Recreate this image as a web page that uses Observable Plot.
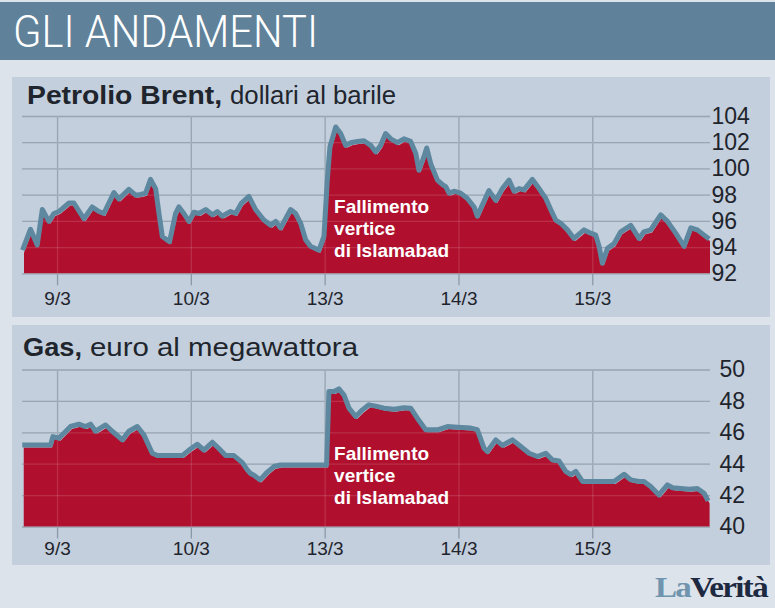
<!DOCTYPE html>
<html>
<head>
<meta charset="utf-8">
<script src="https://cdn.jsdelivr.net/npm/d3@7"></script>
<script src="https://cdn.jsdelivr.net/npm/@observablehq/plot@0.6"></script>
<style>
  body { margin: 0; background: #dce3ea; }
  #root { position: relative; width: 775px; height: 608px; background: #dce3ea; overflow: hidden; }
  .abs { position: absolute; }
</style>
</head>
<body>
<div id="root">
  <div class="abs" style="left:0;top:2px;width:775px;height:58px;background:#5f8199"></div>
  <div class="abs" style="left:12px;top:77px;width:758px;height:240px;background:#c3cfdc"></div>
  <div class="abs" style="left:12px;top:325px;width:758px;height:240px;background:#c3cfdc"></div>
  <svg class="abs" style="left:0;top:0" width="775" height="608">
    <text x="13" y="47" fill="#ffffff" font-family="Roboto, 'Liberation Sans', sans-serif" font-weight="300" font-size="44" textLength="305" lengthAdjust="spacingAndGlyphs">GLI ANDAMENTI</text>
    <text x="27" y="103.5" fill="#20252d" font-family="'Liberation Sans', Arial, sans-serif" font-weight="bold" font-size="26" textLength="195" lengthAdjust="spacingAndGlyphs">Petrolio Brent,</text>
    <text x="230" y="103.5" fill="#20252d" font-family="'Liberation Sans', Arial, sans-serif" font-size="26" textLength="166" lengthAdjust="spacingAndGlyphs">dollari al barile</text>
    <text x="23" y="355.5" fill="#20252d" font-family="'Liberation Sans', Arial, sans-serif" font-weight="bold" font-size="26" textLength="59" lengthAdjust="spacingAndGlyphs">Gas,</text>
    <text x="90" y="355.5" fill="#20252d" font-family="'Liberation Sans', Arial, sans-serif" font-size="26" textLength="268" lengthAdjust="spacingAndGlyphs">euro al megawattora</text>
    <text x="655" y="597" font-family="'Liberation Serif', serif" font-weight="bold" font-size="30" letter-spacing="-1.5" textLength="112" lengthAdjust="spacingAndGlyphs"><tspan fill="#7094ad">La</tspan><tspan fill="#1d2940">Verità</tspan></text>
  </svg>
  <div id="c1" class="abs" style="left:0;top:100px"></div>
  <div id="c2" class="abs" style="left:0;top:350px"></div>
</div>
<script>
// ---- data ----
const dayIndex = [0, 1, 2, 3, 4];
const dayLabels = ["9/3", "10/3", "13/3", "14/3", "15/3"];
const brentTicks = [92, 94, 96, 98, 100, 102, 104];
const gasTicks = [40, 42, 44, 46, 48, 50];
const noteLines = ["Fallimento", "vertice", "di Islamabad"];

// time in trading days (0 = 9/3)
const brentT = [-0.262, -0.202, -0.152, -0.114, -0.065, -0.028, 0.010, 0.085, 0.122, 0.197, 0.259, 0.309, 0.346, 0.421, 0.458, 0.533, 0.583, 0.621, 0.658, 0.695, 0.733, 0.758, 0.783, 0.837, 0.882, 0.907, 0.944, 0.982, 1.019, 1.057, 1.107, 1.157, 1.194, 1.231, 1.293, 1.331, 1.375, 1.430, 1.480, 1.542, 1.593, 1.630, 1.667, 1.742, 1.779, 1.817, 1.854, 1.891, 1.954, 1.991, 2.016, 2.036, 2.079, 2.116, 2.153, 2.191, 2.241, 2.290, 2.340, 2.378, 2.415, 2.452, 2.490, 2.540, 2.589, 2.639, 2.677, 2.701, 2.739, 2.759, 2.789, 2.839, 2.877, 2.901, 2.926, 2.963, 3.013, 3.063, 3.113, 3.137, 3.224, 3.275, 3.325, 3.374, 3.412, 3.449, 3.486, 3.549, 3.599, 3.649, 3.686, 3.723, 3.761, 3.811, 3.860, 3.935, 3.985, 4.022, 4.047, 4.072, 4.110, 4.159, 4.209, 4.284, 4.346, 4.383, 4.433, 4.508, 4.558, 4.620, 4.682, 4.733, 4.782, 4.832, 4.870];
const brentV = [93.8, 95.4, 94.2, 96.9, 96.0, 96.6, 96.75, 97.4, 97.4, 96.2, 97.1, 96.75, 96.6, 98.2, 97.7, 98.45, 98.0, 98.05, 98.15, 99.2, 98.5, 96.6, 94.85, 94.45, 96.6, 97.1, 96.6, 96.0, 96.7, 96.6, 96.9, 96.5, 96.75, 96.4, 96.75, 96.6, 97.4, 97.9, 96.9, 96.1, 95.7, 96.0, 95.5, 96.9, 96.6, 95.85, 94.6, 94.1, 93.8, 94.85, 99.15, 101.7, 103.2, 102.7, 101.8, 102.0, 102.1, 102.15, 101.8, 101.3, 101.8, 102.7, 102.3, 102.0, 102.3, 102.1, 101.2, 99.9, 100.95, 101.6, 100.4, 99.15, 98.8, 98.65, 98.15, 98.3, 98.15, 97.75, 97.1, 96.4, 98.35, 97.6, 98.5, 99.15, 98.3, 98.5, 98.4, 99.2, 98.5, 97.75, 96.9, 96.1, 95.85, 95.35, 94.7, 95.35, 95.1, 94.95, 94.1, 92.8, 93.95, 94.3, 95.2, 95.7, 94.7, 95.2, 95.35, 96.5, 96.0, 95.1, 94.1, 95.5, 95.35, 94.95, 94.65];

const gasT = [-0.264, -0.052, -0.035, 0.010, 0.047, 0.097, 0.159, 0.209, 0.247, 0.284, 0.359, 0.409, 0.484, 0.533, 0.596, 0.645, 0.708, 0.745, 0.932, 0.982, 1.044, 1.094, 1.157, 1.206, 1.256, 1.318, 1.381, 1.418, 1.443, 1.468, 1.513, 1.568, 1.617, 1.667, 2.011, 2.028, 2.066, 2.103, 2.141, 2.178, 2.228, 2.278, 2.327, 2.378, 2.440, 2.514, 2.589, 2.639, 2.689, 2.751, 2.839, 2.914, 2.988, 3.088, 3.137, 3.187, 3.212, 3.275, 3.325, 3.400, 3.462, 3.524, 3.586, 3.649, 3.699, 3.748, 3.798, 3.836, 3.873, 3.923, 4.159, 4.234, 4.284, 4.346, 4.383, 4.433, 4.495, 4.558, 4.596, 4.658, 4.720, 4.782, 4.832, 4.862];
const gasV = [45.23, 45.23, 45.76, 45.66, 45.97, 46.4, 46.55, 46.4, 46.55, 46.1, 46.5, 46.1, 45.55, 46.1, 46.4, 45.87, 44.7, 44.55, 44.55, 44.9, 45.27, 44.9, 45.4, 45.0, 44.55, 44.55, 44.1, 43.64, 43.4, 43.3, 43.0, 43.5, 43.85, 43.95, 43.95, 48.63, 48.63, 48.8, 48.4, 47.57, 47.04, 47.46, 47.78, 47.7, 47.57, 47.5, 47.6, 47.57, 46.93, 46.19, 46.19, 46.4, 46.35, 46.3, 46.2, 45.02, 44.81, 45.55, 45.2, 45.55, 45.13, 44.7, 44.49, 44.7, 44.27, 44.2, 43.54, 43.33, 43.54, 42.9, 42.9, 43.36, 43.0, 42.9, 42.9, 42.58, 42.04, 42.68, 42.5, 42.45, 42.4, 42.45, 42.15, 41.66];

// annotation anchor in data units
const brentNote = {t: 2.067, v: 97.83};
const gasNote = {t: 2.067, v: 45.27};

// ---- styles ----
const xDomain = [-0.262, 4.88];
const RED = "#b0102e";
const BLUE = "#5d889f";
const GRID = "#8a99a9";
const INK = "#1f242c";
const FONT = "'Liberation Sans', Arial, sans-serif";

function makeChart({t, v, yDomain, yTicks, note, height, marginTop, marginBottom, xPad, yPad}) {
  const data = t.map((d, i) => ({t: d, v: v[i]}));
  return Plot.plot({
    width: 775, height, marginLeft: 22, marginRight: 65, marginTop, marginBottom,
    x: {domain: xDomain},
    y: {domain: yDomain},
    style: {background: "transparent", color: INK, fontFamily: FONT, overflow: "visible"},
    marks: [
      Plot.gridY(yTicks, {stroke: GRID, strokeOpacity: 1, strokeWidth: 1.3}),
      Plot.ruleX(dayIndex, {stroke: GRID, strokeWidth: 1.3, insetBottom: -12}),
      Plot.areaY(data, {x: "t", y1: yDomain[0], y2: "v", fill: RED, dx: 2, dy: 3, clip: "frame"}),
      Plot.gridY(yTicks, {stroke: "#ffffff", strokeOpacity: 0.13, strokeWidth: 1.3}),
      Plot.ruleX(dayIndex, {stroke: "#ffffff", strokeOpacity: 0.13, strokeWidth: 1.3}),
      Plot.lineY(data, {x: "t", y: "v", stroke: BLUE, strokeWidth: 5, strokeLinejoin: "round", strokeLinecap: "butt"}),
      Plot.text([note], {x: "t", y: "v", text: () => noteLines.join("\n"), fill: "#ffffff", fontWeight: "bold", fontSize: 19, lineHeight: 1.16, textAnchor: "start", lineAnchor: "top"}),
      Plot.axisX({ticks: dayIndex, tickFormat: i => dayLabels[i], tickSize: 0, tickPadding: xPad, fontSize: 19, label: null}),
      Plot.axisY({anchor: "right", ticks: yTicks, tickSize: 0, tickPadding: yPad, fontSize: 23, tickFormat: d => String(d), label: null})
    ]
  });
}

document.getElementById("c1").append(makeChart({
  t: brentT, v: brentV, yDomain: [92, 104], yTicks: brentTicks, note: brentNote,
  height: 218, marginTop: 16, marginBottom: 44.7, xPad: 18, yPad: 1
}));
document.getElementById("c2").append(makeChart({
  t: gasT, v: gasV, yDomain: [40, 50], yTicks: gasTicks, note: gasNote,
  height: 220, marginTop: 19.5, marginBottom: 43.5, xPad: 14, yPad: 9
}));
</script>
</body>
</html>
